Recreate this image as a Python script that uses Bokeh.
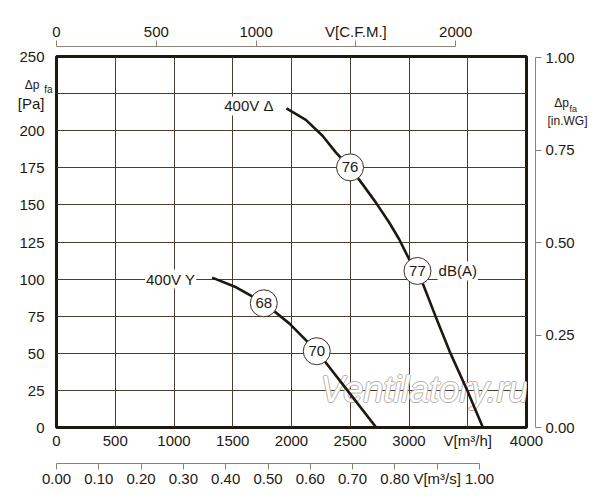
from bokeh.core.properties import value
from bokeh.embed import file_html
from bokeh.models import FixedTicker, Label, LinearAxis, PrintfTickFormatter, Range1d
from bokeh.plotting import figure
from bokeh.resources import INLINE

# ---- data ----
flow_delta = [1957, 2122, 2264, 2377, 2496, 2604, 2717, 2830, 2915, 3000, 3119, 3227, 3355, 3496, 3629]
dp_delta = [215, 207.3, 196.6, 185.4, 175.3, 164, 151.7, 138.3, 127, 113.6, 96.7, 74.7, 49.6, 24.9, 0]

flow_star = [1325, 1529, 1764, 1983, 2215, 2466, 2721]
dp_star = [101, 94.5, 84, 70, 51.5, 26, 0]

noise_flow = [2498, 3072, 1764, 2215]
noise_dp = [175.3, 105.5, 83.7, 51.4]
noise_db = ["76", "77", "68", "70"]

m3h_ticks = [0, 500, 1000, 1500, 2000, 2500, 3000, 3500, 4000]
pa_ticks = [0, 25, 50, 75, 100, 125, 150, 175, 200, 225, 250]
pa_label_ticks = [0, 25, 50, 75, 100, 125, 150, 175, 200, 250]
cfm_ticks = [0, 500, 1000, 1500, 2000]
m3s_ticks = [0.0, 0.1, 0.2, 0.3, 0.4, 0.5, 0.6, 0.7, 0.8, 0.9, 1.0]
inwg_ticks = [0.0, 0.25, 0.5, 0.75, 1.0]

M3H_PER_CFM = 1.699
M3H_PER_M3S = 3600.0
PA_PER_INWG = 249.09

FONT = "Liberation Sans"
INK = "#1e1810"
GRID = "#4a3d30"
AXIS_GREY = "#8c8377"

p = figure(frame_width=470, frame_height=371,
           x_range=(0, 4000), y_range=(0, 250),
           output_backend="svg", toolbar_location=None,
           min_border_left=56, min_border_top=56,
           min_border_right=65, min_border_bottom=64)
p.background_fill_color = "white"
p.outline_line_color = INK
p.outline_line_width = 3

p.extra_x_ranges = {"cfm": Range1d(0, 4000 / M3H_PER_CFM),
                    "m3s": Range1d(0, 4000 / M3H_PER_M3S)}
p.extra_y_ranges = {"wg": Range1d(0, 250 / PA_PER_INWG)}

p.xgrid.ticker = FixedTicker(ticks=m3h_ticks)
p.ygrid.ticker = FixedTicker(ticks=pa_ticks)
p.grid.grid_line_color = GRID
p.grid.grid_line_width = 1


def style(ax, size="15px"):
    ax.major_label_text_font = FONT
    ax.major_label_text_font_size = size
    ax.major_label_text_color = INK
    ax.minor_tick_line_color = None
    ax.minor_tick_out = 0
    ax.minor_tick_in = 0
    ax.major_tick_in = 0


def bare(ax):
    ax.axis_line_color = None
    ax.major_tick_line_color = None
    ax.major_tick_out = 0


def spacer(size, **kw):
    # invisible axis, only there to push the next axis away from the frame
    ax = LinearAxis(ticker=FixedTicker(ticks=[0]), **kw)
    ax.axis_line_color = None
    ax.major_tick_line_color = None
    ax.minor_tick_line_color = None
    ax.major_tick_out = size
    ax.major_tick_in = 0
    ax.minor_tick_out = 0
    ax.major_label_standoff = 0
    ax.major_label_overrides = {0: ""}
    ax.major_label_text_font_size = "1px"
    ax.major_label_text_color = None
    return ax


def title_axis(labels, size, standoff):
    # an axis without line or ticks whose tick labels form the axis title
    ax = LinearAxis(ticker=FixedTicker(ticks=list(labels)))
    style(ax, size)
    bare(ax)
    ax.major_label_overrides = dict(labels)
    ax.major_label_standoff = standoff
    return ax


# m3/h axis directly under the frame
xa = p.xaxis[0]
style(xa)
bare(xa)
xa.ticker = FixedTicker(ticks=m3h_ticks)
xa.major_label_overrides = {3500: "V[m³/h]"}
xa.major_label_standoff = 4

# Pa axis on the left, with "Δp fa [Pa]" stacked between it and the frame
ya = p.yaxis[0]
style(ya)
bare(ya)
ya.ticker = FixedTicker(ticks=pa_label_ticks + [218.5])
ya.major_label_overrides = {218.5: "[Pa]"}
ya.major_label_standoff = -23
fa_left = title_axis({228: "fa"}, "10px", 4)
dp_left = title_axis({231: "Δp"}, "12px", 2)
p.left = [fa_left, dp_left] + list(p.left)

# m3/s axis, lower
p.add_layout(spacer(12), "below")
ms = LinearAxis(x_range_name="m3s", ticker=FixedTicker(ticks=m3s_ticks),
                formatter=PrintfTickFormatter(format="%.2f"), bounds=(0, 1))
style(ms)
ms.major_label_overrides = {0.9: "V[m³/s]"}
ms.axis_line_color = AXIS_GREY
ms.major_tick_line_color = AXIS_GREY
ms.major_tick_out = 6
ms.major_label_standoff = 0
p.add_layout(ms, "below")

# CFM axis on top
p.add_layout(spacer(10), "above")
cfm = LinearAxis(x_range_name="cfm", ticker=FixedTicker(ticks=cfm_ticks), bounds=(0, 2000))
style(cfm)
cfm.major_label_overrides = {1500: "V[C.F.M.]"}
cfm.axis_line_color = AXIS_GREY
cfm.major_tick_line_color = AXIS_GREY
cfm.major_tick_out = 6
cfm.major_label_standoff = 1
p.add_layout(cfm, "above")

# in.WG axis on the right
p.add_layout(spacer(9, y_range_name="wg"), "right")
wg = LinearAxis(y_range_name="wg", ticker=FixedTicker(ticks=inwg_ticks),
                formatter=PrintfTickFormatter(format="%.2f"), bounds=(0, 1))
style(wg)
wg.axis_line_color = AXIS_GREY
wg.major_tick_line_color = AXIS_GREY
wg.major_tick_out = 6
wg.major_label_standoff = 4
p.add_layout(wg, "right")

# right title "Δp fa [in.WG]", pulled back over the in.WG labels
p.add_layout(title_axis({218.5: "\u00a0\u00a0Δp", 206.6: "[in.WG]"}, "12px", -30), "right")
p.add_layout(Label(x=-21, y=318.7, x_units="screen", y_units="screen", text="fa",
                   text_font=FONT, text_font_size="9px", text_color=INK,
                   text_align="left", text_baseline="middle"), "right")

# watermark
wm_x, wm_y, wm_text = [3132], [25.4], ["Ventilatory.ru"]
for dx, dy in [(-1, 0), (1, 0), (0, -1), (0, 1)]:
    p.text(wm_x, wm_y, text=wm_text, x_offset=dx, y_offset=dy,
           text_font=value(FONT), text_font_style="italic", text_font_size="36px",
           text_color="#b8b1a8", text_align="center", text_baseline="middle")
p.text(wm_x, wm_y, text=wm_text,
       text_font=value(FONT), text_font_style="italic", text_font_size="36px",
       text_color="white", text_align="center", text_baseline="middle")

# curves
p.line(flow_delta, dp_delta, line_color=INK, line_width=2.6)
p.line(flow_star, dp_star, line_color=INK, line_width=2.6)

# noise level bubbles
p.scatter(noise_flow, noise_dp, marker="circle", size=27,
          fill_color="white", line_color="#3a3025", line_width=1)
p.text(noise_flow, noise_dp, text=noise_db, text_font=value(FONT),
       text_font_size="15px", text_color=INK, text_align="center", text_baseline="middle")


def lab(x, y, text, size="15px", align="left"):
    p.add_layout(Label(x=x, y=y, text=text, text_font=FONT, text_font_size=size,
                       text_color=INK, text_align=align, text_baseline="middle",
                       background_fill_color="white", padding=1))


lab(1855, 216.7, "400V Δ", align="right")
lab(1189, 100, "400V Y", align="right")
lab(3243, 105.5, "dB(A)")

open("out.html", "w").write(file_html(p, INLINE))
